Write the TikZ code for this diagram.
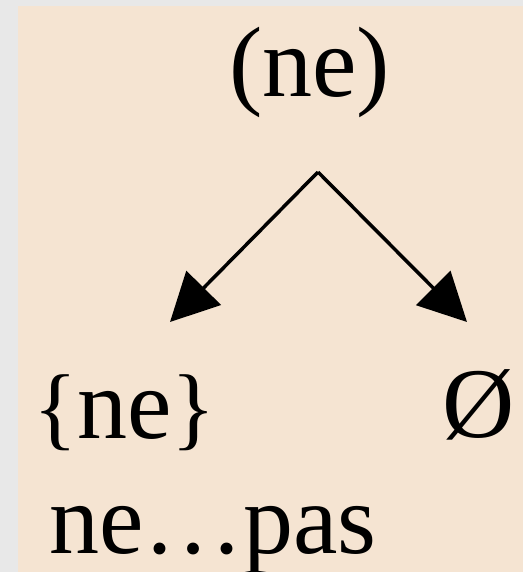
\documentclass[tikz,border=0pt]{standalone}
\usepackage{fontspec}
\setmainfont{Liberation Serif}
\usetikzlibrary{arrows.meta}
\definecolor{bggray}{HTML}{E8E8E8}
\definecolor{panel}{HTML}{F5E4D2}
\begin{document}
\begin{tikzpicture}[x=1pt,y=-1pt,
  lbl/.style={inner sep=0pt,outer sep=0pt,font=\fontsize{100}{110}\selectfont,anchor=base west},
  conn/.style={line width=3.5pt,-{Triangle[length=48pt,width=48pt]}}]
\fill[bggray] (0,0) rectangle (523,572);
\fill[panel] (18,6) rectangle (523,572);
\useasboundingbox (0,0) rectangle (523,572);
\node[lbl] (top) at (229,97) {(ne)};
\coordinate (apex) at (318,172);
\node[lbl] (left) at (33,438) {{\fontsize{92}{110}\selectfont\{}ne{\fontsize{92}{110}\selectfont\}}};
\node[lbl] (right) at (442,437) {Ø};
\node[lbl] (bottom) at (49,553) {ne…pas};
\coordinate (ltip) at (170,322);
\coordinate (rtip) at (467,322);
\draw[conn] (apex) -- (ltip);
\draw[conn] (apex) -- (rtip);
\end{tikzpicture}
\end{document}
